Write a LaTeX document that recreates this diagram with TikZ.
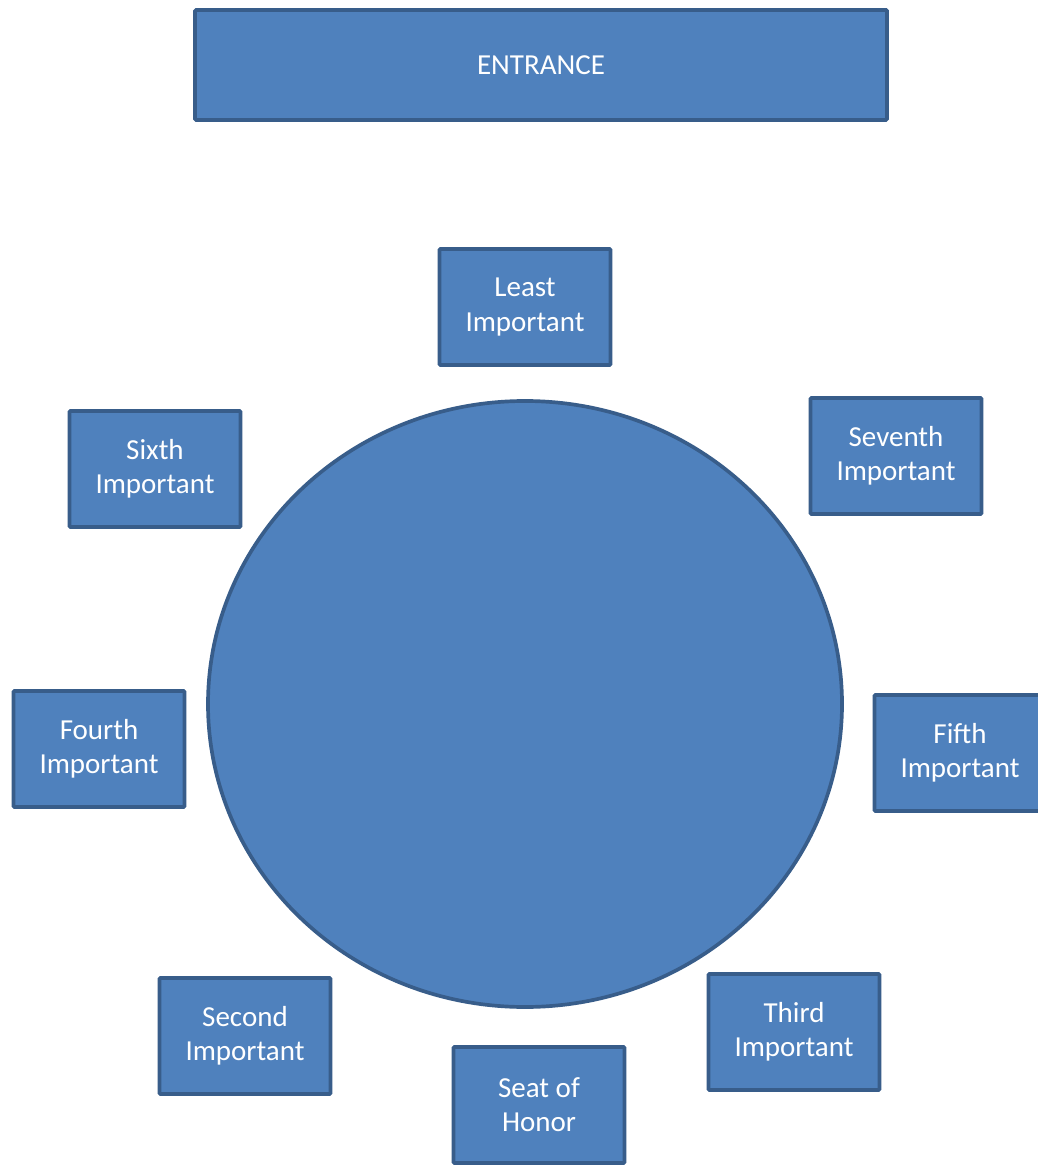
\documentclass[tikz,border=0pt]{standalone}
\usepackage{fontspec}
\setmainfont{Carlito}
\usepackage{xcolor}
\usepackage{tikz}
\usetikzlibrary{calc}

\definecolor{seatfill}{HTML}{4F81BD}
\definecolor{seatline}{HTML}{385D8A}

\tikzset{
	seat/.style = {draw = seatline, fill = seatfill, line width = 2.1pt, text = white, align = center,
		minimum width = 3.42cm, minimum height = 2.32cm, inner sep = 0pt, rounded corners = 0.6pt,
		font = \fontsize{16.5pt}{19.5pt}\selectfont},
	door/.style = {seat, minimum width = 13.84cm, minimum height = 2.2cm}
}

\begin{document}
\begin{tikzpicture}[x = 0.02cm, y = -0.02cm]
	\def\w{1037};
	\def\h{1168};
	
	\useasboundingbox (0,0) rectangle (\w,\h);
	\fill [white] (0,0) rectangle (\w,\h);
	
	\node [door] (entrance) at (541,65) {ENTRANCE};
	
	\filldraw [draw = seatline, fill = seatfill, line width = 2.1pt] (525,704) ellipse [x radius = 317, y radius = 303];
	
	\node [seat] (least) at (525,307) {Least\\Important};
	\node [seat] (seventh) at (896,456) {Seventh\\Important};
	\node [seat] (sixth) at (155,469) {Sixth\\Important};
	\node [seat] (fourth) at (99,749) {Fourth\\Important};
	\node [seat] (fifth) at (960,753) {Fifth\\Important};
	\node [seat] (second) at (245,1036) {Second\\Important};
	\node [seat] (third) at (794,1032) {Third\\Important};
	\node [seat] (honor) at (539,1105) {Seat of\\Honor};
\end{tikzpicture}
\end{document}
